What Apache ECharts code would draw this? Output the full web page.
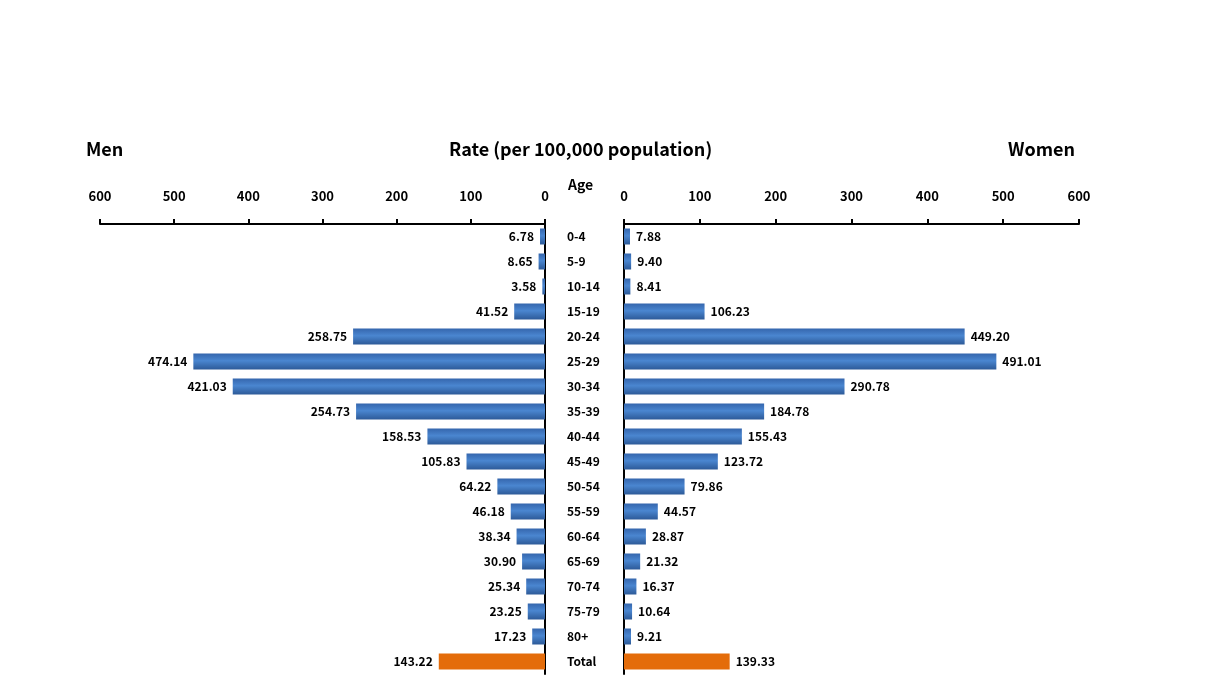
<!DOCTYPE html>
<html>
<head>
<meta charset="utf-8">
<script src="https://cdn.jsdelivr.net/npm/echarts@6/dist/echarts.min.js"></script>
<style>html,body{margin:0;padding:0;background:#fff;}#c{width:1210px;height:686px;}</style>
</head>
<body>
<div id="c"></div>
<script>
const categories = ['0-4','5-9','10-14','15-19','20-24','25-29','30-34','35-39','40-44','45-49','50-54','55-59','60-64','65-69','70-74','75-79','80+','Total'];
const menValues = [6.78,8.65,3.58,41.52,258.75,474.14,421.03,254.73,158.53,105.83,64.22,46.18,38.34,30.90,25.34,23.25,17.23,143.22];
const womenValues = [7.88,9.40,8.41,106.23,449.20,491.01,290.78,184.78,155.43,123.72,79.86,44.57,28.87,21.32,16.37,10.64,9.21,139.33];
const axisTicks = [0,100,200,300,400,500,600];

const FONT = '"Noto Sans CJK KR", "Open Sans", sans-serif';
const blue = new echarts.graphic.LinearGradient(0,0,0,1,[
  {offset:0,color:'#3566ad'},{offset:0.45,color:'#4a86d0'},{offset:1,color:'#2d5a98'}]);
const orange = '#e46c0a';

function mkData(vals){
  return vals.map((v,i)=>({value:v, itemStyle:{color: categories[i]==='Total'?orange:blue}}));
}
const chart = echarts.init(document.getElementById('c'));
const lbl = {fontFamily:FONT,fontWeight:'bold',fontSize:12,color:'#000'};
chart.setOption({
  animation:false,
  graphic:[
    {type:'text',left:86,top:140,style:{text:'Men',font:'bold 18px '+FONT,fill:'#000'}},
    {type:'text',left:449,top:140,style:{text:'Rate (per 100,000 population)',font:'bold 18px '+FONT,fill:'#000'}},
    {type:'text',left:1008,top:140,style:{text:'Women',font:'bold 18px '+FONT,fill:'#000'}},
    {type:'text',left:568,top:178,style:{text:'Age',font:'bold 14px '+FONT,fill:'#000'}}
  ],
  grid:[
    {left:100,right:665,top:224,height:450},
    {left:624,right:131,top:224,height:450}
  ],
  xAxis:[
    {gridIndex:0,type:'value',min:0,max:600,interval:100,inverse:true,position:'top',
     axisLine:{show:true,lineStyle:{color:'#000',width:2}},
     axisTick:{show:true,length:5,lineStyle:{color:'#000',width:2}},
     splitLine:{show:false},
     axisLabel:Object.assign({margin:21},lbl,{fontSize:13})},
    {gridIndex:1,type:'value',min:0,max:600,interval:100,position:'top',
     axisLine:{show:true,lineStyle:{color:'#000',width:2}},
     axisTick:{show:true,length:5,lineStyle:{color:'#000',width:2}},
     splitLine:{show:false},
     axisLabel:Object.assign({margin:21},lbl,{fontSize:13})}
  ],
  yAxis:[
    {gridIndex:0,type:'category',data:categories,inverse:true,position:'right',
     axisLine:{show:true,onZero:false,lineStyle:{color:'#000',width:2}},
     axisTick:{show:false},axisLabel:{show:false}},
    {gridIndex:1,type:'category',data:categories,inverse:true,position:'left',
     axisLine:{show:true,onZero:false,lineStyle:{color:'#000',width:2}},
     axisTick:{show:false},
     axisLabel:Object.assign({margin:57,align:'left'},lbl,{fontSize:12})}
  ],
  series:[
    {type:'bar',xAxisIndex:0,yAxisIndex:0,data:mkData(menValues),barWidth:16,
     label:Object.assign({show:true,position:'left',distance:6,formatter:p=>p.value.toFixed(2)},lbl)},
    {type:'bar',xAxisIndex:1,yAxisIndex:1,data:mkData(womenValues),barWidth:16,
     label:Object.assign({show:true,position:'right',distance:6,formatter:p=>p.value.toFixed(2)},lbl)}
  ]
});
</script>
</body>
</html>
